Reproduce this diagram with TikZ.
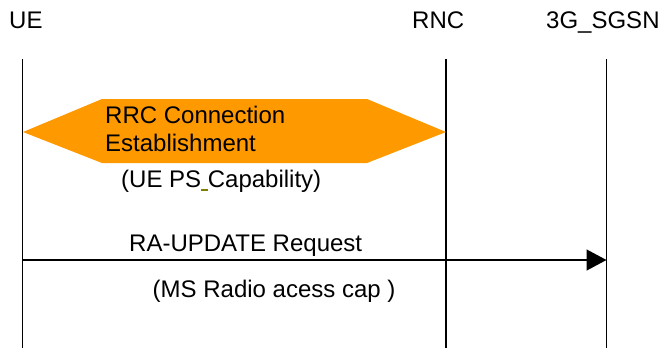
\documentclass[tikz,border=0pt]{standalone}
\usepackage{fontspec}
\setmainfont{Liberation Sans}
\usetikzlibrary{arrows.meta}
\definecolor{rrcorange}{HTML}{FF9900}
\definecolor{markolive}{HTML}{808000}

\begin{document}
\begin{tikzpicture}[x=1pt,y=-1pt,
  lbl/.style={anchor=base west, inner sep=0pt, font=\fontsize{24}{28}\selectfont},
  lifeline/.style={line width=1.5pt, black},
  msg/.style={line width=1.5pt, black, -{Triangle[length=20pt,width=21pt]}},
  procbox/.style={fill=rrcorange, draw=none}]
\useasboundingbox (0,0) rectangle (665,349);

% entity headers
\node[lbl] (ue)   at (9,28)   {UE};
\node[lbl] (rnc)  at (412,28) {RNC};
\node[lbl] (sgsn) at (546,28) {3G\_SGSN};

% lifelines
\coordinate (ueT)   at (22.5,59);  \coordinate (ueB)   at (22.5,348);
\coordinate (rncT)  at (446,59);   \coordinate (rncB)  at (446,348);
\coordinate (sgsnT) at (606.5,59); \coordinate (sgsnB) at (606.5,348);
\draw[lifeline] (ueT) -- (ueB);
\draw[lifeline] (rncT) -- (rncB);
\draw[lifeline] (sgsnT) -- (sgsnB);

% RRC connection establishment procedure (UE <-> RNC)
\coordinate (hexL)  at (23,132);
\coordinate (hexTL) at (102,99);
\coordinate (hexTR) at (367,99);
\coordinate (hexR)  at (446,132);
\coordinate (hexBR) at (367,163);
\coordinate (hexBL) at (102,163);
\fill[procbox] (hexL) -- (hexTL) -- (hexTR) -- (hexR) -- (hexBR) -- (hexBL) -- cycle;
\node[lbl] (rrc1) at (105,123) {RRC Connection};
\node[lbl] (rrc2) at (105,151) {Establishment};
\node[lbl] (uecap) at (121,187)
  {(UE PS\textcolor{markolive}{\rlap{\rule[-3.5pt]{7pt}{2pt}}}\ Capability)};

% RA update request (UE -> 3G_SGSN)
\coordinate (raS) at (22.5,260);
\coordinate (raE) at (606.5,260);
\draw[msg] (raS) -- (raE);
\node[lbl] (ralbl) at (129,251) {RA-UPDATE Request};
\node[lbl] (racap) at (152.5,297) {(MS Radio acess cap )};
\end{tikzpicture}
\end{document}
